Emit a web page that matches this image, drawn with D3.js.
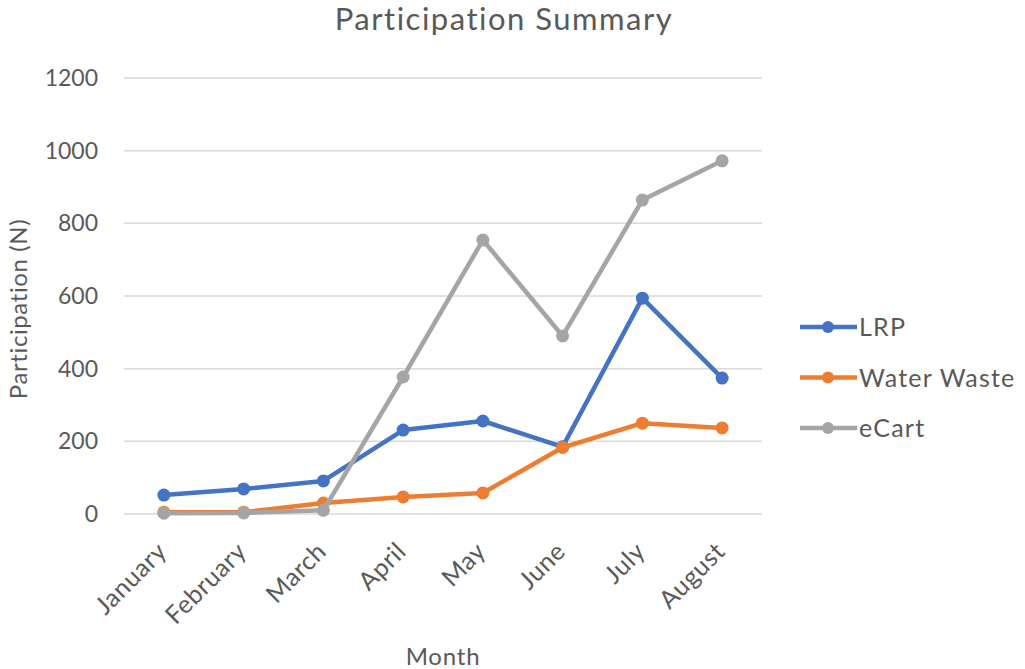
<!DOCTYPE html>
<html><head><meta charset="utf-8">
<script src="https://cdn.jsdelivr.net/npm/d3@7"></script>
<style>body{margin:0;background:#fff;} text{font-family:Lato,"Open Sans",sans-serif;}</style>
</head><body>
<svg id="c" width="1025" height="669"></svg>
<script>
const months = ["January","February","March","April","May","June","July","August"];
const lrp = [52, 69, 91, 231, 256, 185, 594, 374];
const waterWaste = [5, 5, 30, 47, 58, 183, 250, 237];
const eCart = [2, 3, 10, 377, 754, 490, 864, 972];
const yTicks = [0, 200, 400, 600, 800, 1000, 1200];
const seriesNames = ["LRP", "Water Waste", "eCart"];
const seriesColors = ["#4472C4", "#ED7D31", "#A5A5A5"];

(function () {
const series = [lrp, waterWaste, eCart].map((v, i) => ({name: seriesNames[i], color: seriesColors[i], values: v}));

const svg = d3.select("#c");
const pLeft = 124, pRight = 762, pTop = 78, pBottom = 514;
const x = d3.scalePoint().domain(months).range([pLeft, pRight]).padding(0.5);
const y = d3.scaleLinear().domain([0, 1200]).range([pBottom, pTop]);
const txt = "#595959";
const ff = "Lato";

svg.append("text").attr("x", 504).attr("y", 30).attr("text-anchor", "middle")
  .attr("font-size", 31).attr("letter-spacing", 1.5).attr("fill", txt).text("Participation Summary");

svg.append("g").selectAll("line").data(yTicks).join("line")
  .attr("x1", pLeft).attr("x2", pRight).attr("y1", d => y(d)).attr("y2", d => y(d))
  .attr("stroke", "#d9d9d9").attr("stroke-width", 1.5);

const ya = svg.append("g").attr("transform", `translate(${pLeft},0)`)
  .call(d3.axisLeft(y).tickValues(yTicks).tickFormat(d3.format("d")).tickSize(0).tickPadding(26));
ya.select(".domain").remove();
ya.selectAll("text").attr("font-size", 23).attr("fill", txt).attr("font-family", ff);

const xa = svg.append("g").attr("transform", `translate(0,${pBottom})`)
  .call(d3.axisBottom(x).tickSize(0).tickPadding(0));
xa.select(".domain").remove();
xa.selectAll("text").attr("font-size", 25).attr("letter-spacing", 0.6).attr("fill", txt).attr("font-family", ff)
  .attr("text-anchor", "end").attr("dy", 0)
  .attr("transform", "translate(4,39) rotate(-45)");

svg.append("text").attr("transform", "translate(27,309) rotate(-90)").attr("text-anchor", "middle")
  .attr("font-size", 24).attr("letter-spacing", 0.6).attr("fill", txt).text("Participation (N)");
svg.append("text").attr("x", 443).attr("y", 665).attr("text-anchor", "middle")
  .attr("font-size", 24).attr("letter-spacing", 0.8).attr("fill", txt).text("Month");

const line = d3.line().x((d, i) => x(months[i])).y(d => y(d));
const g = svg.append("g");
series.forEach(s => {
  g.append("path").attr("d", line(s.values)).attr("fill", "none")
    .attr("stroke", s.color).attr("stroke-width", 4.5).attr("stroke-linejoin", "round");
  g.selectAll(null).data(s.values).join("circle")
    .attr("cx", (d, i) => x(months[i])).attr("cy", d => y(d)).attr("r", 6.5).attr("fill", s.color);
});

const lg = svg.append("g");
series.forEach((s, i) => {
  const ly = 327 + i * 50.5;
  lg.append("line").attr("x1", 800).attr("x2", 857).attr("y1", ly).attr("y2", ly)
    .attr("stroke", s.color).attr("stroke-width", 4.5);
  lg.append("circle").attr("cx", 828).attr("cy", ly).attr("r", 6).attr("fill", s.color);
  lg.append("text").attr("x", 859).attr("y", ly + 9).attr("font-size", 25).attr("letter-spacing", 1.2)
    .attr("fill", txt).text(s.name);
});
})();
</script>
</body></html>
